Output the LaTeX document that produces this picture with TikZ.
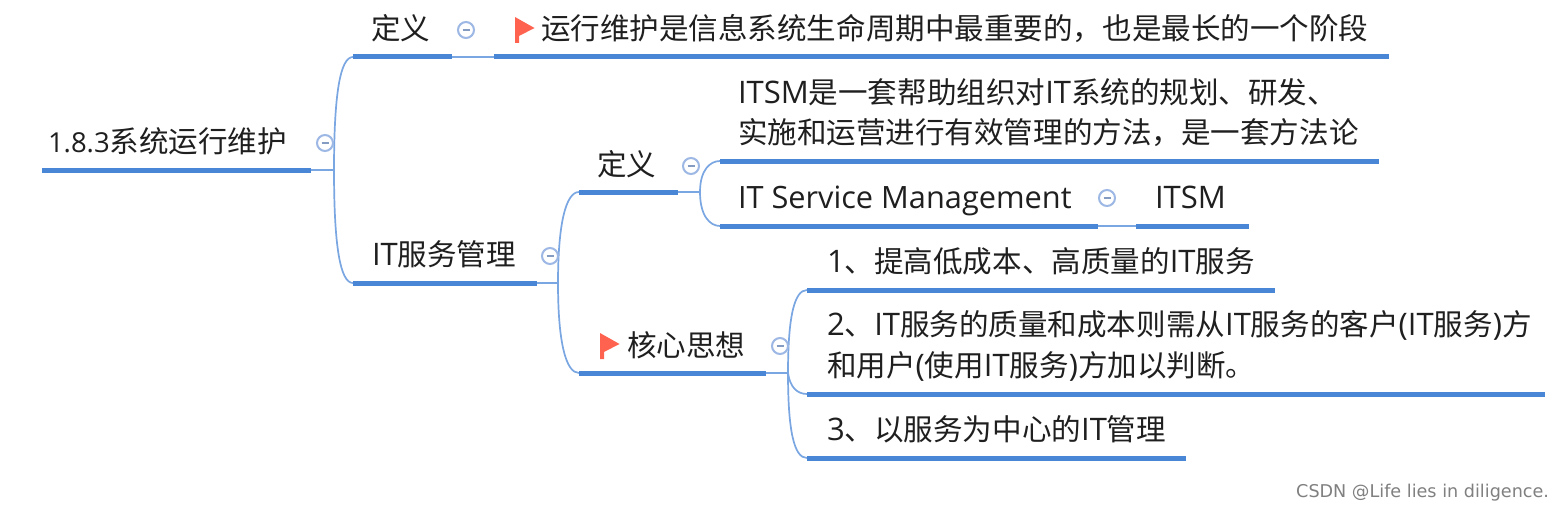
\documentclass[tikz,border=0pt]{standalone}
\usepackage{fontspec}
\setmainfont{Noto Sans CJK SC}
\newfontfamily\lat[Scale=1.05]{Open Sans}
\newfontfamily\latsvc[Scale=1.04]{Open Sans}
\newfontfamily\latnum[Scale=0.93]{Open Sans}
\newfontfamily\wm{DejaVu Sans}
\definecolor{topicblue}{HTML}{4A86D6}
\definecolor{linkblue}{HTML}{7AA6E2}
\definecolor{iconblue}{HTML}{9DB8E4}
\definecolor{flagred}{HTML}{FF6350}
\tikzset{
  x=1pt,y=-1pt,
  txt/.style={anchor=base west,inner sep=0pt,outer sep=0pt,font=\fontsize{29.55}{40}\selectfont,text=black!88,align=left},
  under/.style={draw=topicblue,line width=5pt},
  link/.style={draw=linkblue,line width=1.7pt},
  fold/.style={circle,draw=iconblue,line width=2pt,minimum size=16pt,inner sep=0pt,
    path picture={\draw[iconblue!85!black,line width=1.5pt] ([xshift=-3.5pt]path picture bounding box.center) -- ([xshift=3.5pt]path picture bounding box.center);}}
}
\newcommand{\flagat}[3]{%
  \fill[flagred] (#1,#2) -- (#1+19.5,#2+11) -- (#1+4,#2+19) -- (#1+4,#2+26) -- (#1,#2+26) -- cycle;
  \node[inner sep=0pt,minimum size=0pt] (#3) at (#1,#2) {};}
\begin{document}
\begin{tikzpicture}
\useasboundingbox (0,0) rectangle (1563,511);
\fill[white] (0,0) rectangle (1563,511);
% underline ends
\coordinate (rootL) at (42,170); \coordinate (rootR) at (311,170); \coordinate (jRoot) at (334,170);
\coordinate (defL) at (353,57); \coordinate (defR) at (452,57);
\coordinate (sentL) at (494,57); \coordinate (sentR) at (1389,57);
\coordinate (itL) at (353,283); \coordinate (itR) at (537,283); \coordinate (jIt) at (558,283);
\coordinate (defbL) at (579,192); \coordinate (defbR) at (678,192); \coordinate (jDef) at (700,192);
\coordinate (itsmL) at (720,161); \coordinate (itsmR) at (1379,161);
\coordinate (svcL) at (720,226); \coordinate (svcR) at (1098,226);
\coordinate (abbL) at (1136,226); \coordinate (abbR) at (1249,226);
\coordinate (coreL) at (579,373); \coordinate (coreR) at (766,373); \coordinate (jCore) at (788,373);
\coordinate (oneL) at (807,290); \coordinate (oneR) at (1275,290);
\coordinate (twoL) at (807,394); \coordinate (twoR) at (1545,394);
\coordinate (thrL) at (807,458); \coordinate (thrR) at (1186,458);
% connectors
\draw[link] (rootR) -- (jRoot);
\draw[link] (defR) -- (sentL);
\draw[link] (itR) -- (jIt);
\draw[link] (defbR) -- (jDef);
\draw[link] (svcR) -- (abbL);
\draw[link] (coreR) -- (jCore);
\draw[link] (jRoot) .. controls +(0,-75) and +(-13,0) .. (defL);
\draw[link] (jRoot) .. controls +(0,75) and +(-13,0) .. (itL);
\draw[link] (jIt) .. controls +(0,-60) and +(-13,0) .. (defbL);
\draw[link] (jIt) .. controls +(0,60) and +(-13,0) .. (coreL);
\draw[link] (jDef) .. controls +(0,-22) and +(-10,0) .. (itsmL);
\draw[link] (jDef) .. controls +(0,24) and +(-10,0) .. (svcL);
\draw[link] (jCore) .. controls +(0,-55) and +(-13,0) .. (oneL);
\draw[link] (jCore) .. controls +(2,14) and +(-10,0) .. (twoL);
\draw[link] (jCore) .. controls +(0,58) and +(-13,0) .. (thrL);
% underlines
\foreach \a/\b in {rootL/rootR,defL/defR,sentL/sentR,itL/itR,defbL/defbR,itsmL/itsmR,svcL/svcR,abbL/abbR,coreL/coreR,oneL/oneR,twoL/twoR,thrL/thrR}
  \draw[under] (\a) -- (\b);
% texts
\node[txt] (root) at (48,152) {{\latnum 1.8.3}系统运行维护};
\node[txt] (def) at (371,40) {定义};
\node[txt] (sent) at (541,40) {运行维护是信息系统生命周期中最重要的，也是最长的一个阶段};
\node[txt] (it) at (372,265) {{\lat IT}服务管理};
\node[txt] (defb) at (597,175) {定义};
\node[txt] (itsm1) at (738,103) {{\lat ITSM}是一套帮助组织对{\lat IT}系统的规划、研发、};
\node[txt] (itsm2) at (738,143) {实施和运营进行有效管理的方法，是一套方法论};
\node[txt] (svc) at (738,208) {\latsvc IT Service Management};
\node[txt] (abb) at (1155,208) {\lat ITSM};
\node[txt] (core) at (627,356) {核心思想};
\node[txt] (one) at (827,272) {{\lat 1}、提高低成本、高质量的{\lat IT}服务};
\node[txt] (two1) at (827,335) {{\lat 2}、{\lat IT}服务的质量和成本则需从{\lat IT}服务的客户{\lat (IT}服务{\lat )}方};
\node[txt] (two2) at (827,376) {和用户{\lat (}使用{\lat IT}服务{\lat )}方加以判断。};
\node[txt] (thr) at (827,440) {{\lat 3}、以服务为中心的{\lat IT}管理};
% fold icons
\node[fold] (fRoot) at (325,143) {};
\node[fold] (fDef) at (466,30) {};
\node[fold] (fIt) at (550,256) {};
\node[fold] (fDefb) at (691,166) {};
\node[fold] (fSvc) at (1107,198) {};
\node[fold] (fCore) at (780,346) {};
% flags
\flagat{515}{17}{flagA}
\flagat{600}{333}{flagB}
% watermark
\node[anchor=base west,inner sep=0pt,text=black!50,font=\fontsize{17.6}{22}\selectfont\wm] (mark) at (1296,497) {CSDN @Life lies in diligence.};
\end{tikzpicture}
\end{document}
